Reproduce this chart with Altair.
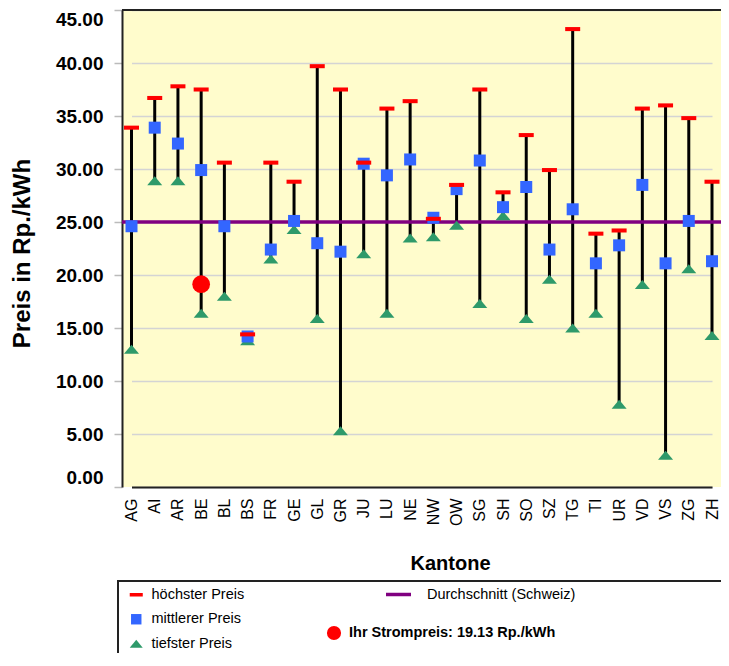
import altair as alt
import pandas as pd

# ---------------- data ----------------
kantone = ["AG", "AI", "AR", "BE", "BL", "BS", "FR", "GE", "GL", "GR", "JU", "LU", "NE",
           "NW", "OW", "SG", "SH", "SO", "SZ", "TG", "TI", "UR", "VD", "VS", "ZG", "ZH"]
hoechster = [33.9, 36.7, 37.8, 37.5, 30.6, 14.4, 30.6, 28.8, 39.7, 37.5, 30.6, 35.7, 36.4,
             25.3, 28.5, 37.5, 27.8, 33.2, 29.9, 43.2, 23.9, 24.2, 35.7, 36.0, 34.8, 28.8]
mittlerer = [24.6, 33.9, 32.4, 29.9, 24.6, 14.2, 22.4, 25.1, 23.0, 22.2, 30.5, 29.4, 30.9,
             25.4, 28.1, 30.8, 26.4, 28.3, 22.4, 26.2, 21.1, 22.8, 28.5, 21.1, 25.1, 21.3]
tiefster = [13.0, 28.9, 28.9, 16.4, 18.0, 13.8, 21.5, 24.3, 15.9, 5.3, 22.0, 16.4, 23.5,
            23.6, 24.7, 17.3, 25.6, 15.9, 19.6, 15.0, 16.4, 7.8, 19.1, 3.0, 20.6, 14.3]
durchschnitt = 25.0
ihr_kanton = "BE"
ihr_preis = 19.13

serien = ["höchster Preis", "mittlerer Preis", "tiefster Preis"]
label_schnitt = "Durchschnitt (Schweiz)"
label_ihr = "Ihr Strompreis: 19.13 Rp./kWh"
y_ticks = [0, 5, 10, 15, 20, 25, 30, 35, 40, 45]

# ---------------- tables ----------------
spann = pd.DataFrame({"Kanton": kantone, "min": tiefster, "max": hoechster})
rows = []
for name, vals in [("tiefster Preis", tiefster), ("mittlerer Preis", mittlerer),
                   ("höchster Preis", hoechster)]:
    for k, v in zip(kantone, vals):
        rows.append({"Kanton": k, "Serie": name, "Preis": v})
punkte = pd.DataFrame(rows)
schnitt = pd.DataFrame({"label": [label_schnitt], "wert": [durchschnitt]})
ihr = pd.DataFrame({"Kanton": [ihr_kanton], "Preis": [ihr_preis], "label": [label_ihr]})
deko = pd.DataFrame({"d": [0]})

FONT = "Liberation Sans"
W, H = 599, 477
LEG = dict(labelFont=FONT, labelFontSize=14.5, labelColor="black", labelLimit=0,
           title=None, orient="none", padding=0)

x_enc = alt.X("Kanton:N", sort=kantone,
              scale=alt.Scale(type="point", range=[9.5, 590], padding=0),
              axis=alt.Axis(title="Kantone", labelAngle=270, labelPadding=11,
                            labelFont=FONT, labelFontSize=16, labelColor="black",
                            ticks=False, tickSize=0, grid=False,
                            domainColor="#222", domainWidth=2,
                            titleFont=FONT, titleFontSize=20, titleFontWeight="bold",
                            titleColor="black",
                            titleX=328, titleY=66, titleBaseline="top"))
y_scale = alt.Scale(domain=[0, 45], nice=False, zero=True)
y_axis = alt.Axis(title="Preis in Rp./kWh", values=y_ticks, format=".2f",
                  labelFont=FONT, labelFontSize=19, labelFontWeight="bold",
                  labelColor="black", labelPadding=11, labelFlush=True,
                  tickSize=8, tickColor="#BBBBBB", tickWidth=1.5,
                  domainColor="#222", domainWidth=2,
                  grid=True, gridColor="#D4D4D4", gridWidth=1.5,
                  titleFont=FONT, titleFontSize=24, titleFontWeight="bold",
                  titleColor="black",
                  titleAngle=270, titleX=-100, titleY=243,
                  titleBaseline="middle", titleAlign="center")

linien = alt.Chart(spann).mark_rule(color="black", strokeWidth=3).encode(
    x=x_enc,
    y=alt.Y("min:Q", scale=y_scale, axis=y_axis),
    y2="max:Q",
)

mittel = alt.Chart(schnitt).mark_rule(strokeWidth=3.5).encode(
    y=alt.Y("wert:Q", scale=y_scale),
    color=alt.Color("label:N", scale=alt.Scale(domain=[label_schnitt], range=["#800080"]),
                    legend=alt.Legend(legendX=262, legendY=570,
                                      symbolType="stroke", symbolSize=625,
                                      symbolStrokeWidth=3.5, labelOffset=14, **LEG)),
)

dash = "M-1,-0.27H1V0.27H-1Z"
square = "M-0.8,-0.8H0.8V0.8H-0.8Z"
tri = "M0,-0.6L1,0.6L-1,0.6Z"

symbole = alt.Chart(punkte).mark_point(filled=True, size=225, opacity=1).encode(
    x=alt.X("Kanton:N", sort=kantone),
    y=alt.Y("Preis:Q", scale=y_scale),
    color=alt.Color("Serie:N",
                    scale=alt.Scale(domain=serien, range=["#FF0000", "#3366FF", "#2E9A6A"]),
                    legend=alt.Legend(legendX=7, legendY=577.5,
                                      symbolSize=170, labelOffset=8, rowPadding=9.5,
                                      symbolStrokeWidth=0, **LEG)),
    shape=alt.Shape("Serie:N", scale=alt.Scale(domain=serien, range=[dash, square, tri])),
)

punkt = alt.Chart(ihr).mark_circle(size=314, opacity=1).encode(
    x=alt.X("Kanton:N", sort=kantone),
    y=alt.Y("Preis:Q", scale=y_scale),
    color=alt.Color("label:N", scale=alt.Scale(domain=[label_ihr], range=["#FF0000"]),
                    legend=alt.Legend(legendX=204, legendY=615,
                                      symbolSize=200, labelFontWeight="bold",
                                      labelOffset=7, **LEG)),
)

oben = alt.Chart(deko).mark_rule(color="#222", strokeWidth=2).encode(
    x=alt.value(0), x2=alt.value(W + 20), y=alt.value(0))
box = alt.Chart(deko).mark_rect(filled=False, stroke="#222", strokeWidth=2).encode(
    x=alt.value(-4), x2=alt.value(W + 60), y=alt.value(571), y2=alt.value(H + 300))

chart = alt.layer(linien, mittel, symbole, punkt, oben, box).resolve_scale(
    color="independent", shape="independent"
).properties(
    width=W, height=H,
    autosize=alt.AutoSizeParams(type="none"),
    padding={"left": 114, "top": 2, "right": 0, "bottom": 166},
).configure(
    background="white", font=FONT,
    view=alt.ViewConfig(fill="#FFFCCC", stroke="transparent", strokeWidth=0),
    axisY=alt.AxisConfig(labelFontSize=19, labelFontWeight="bold", labelFont=FONT),
)

chart.save("out.html", embed_options={"renderer": "svg", "actions": False})
